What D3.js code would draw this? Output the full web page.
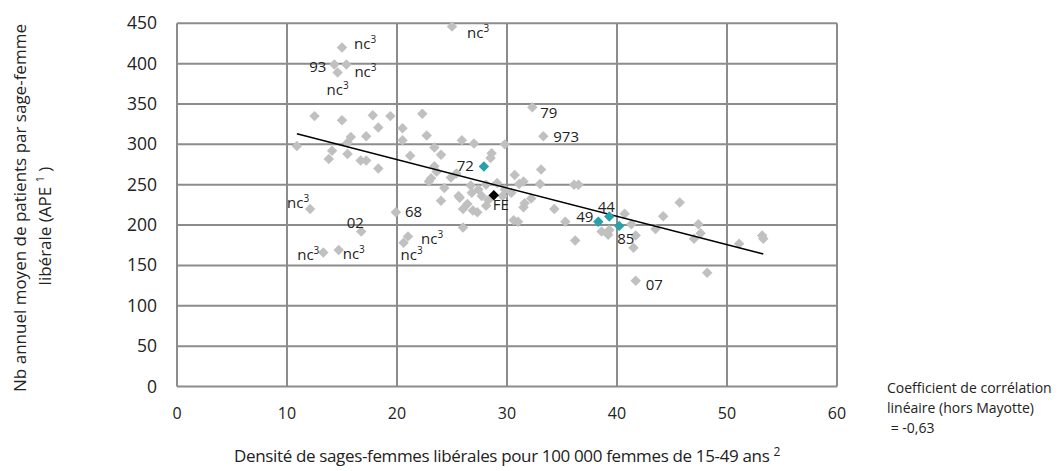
<!DOCTYPE html>
<html lang="fr">
<head>
<meta charset="utf-8">
<title>Densité de sages-femmes libérales et activité</title>
<script src="https://cdn.jsdelivr.net/npm/d3@7"></script>
<style>
  body { margin: 0; background: #fff; }
  text { font-family: "Open Sans", sans-serif; fill: #222; }
</style>
</head>
<body>
<script>
// Axis ticks
var xTicks = [0, 10, 20, 30, 40, 50, 60];
var yTicks = [0, 50, 100, 150, 200, 250, 300, 350, 400, 450];

// Départements without a label (density, APE)
var greyX = [12.5, 15.0, 17.8, 19.4, 22.3, 18.3, 15.8, 15.5, 17.2, 20.5, 20.5, 22.7, 10.9, 14.1, 13.8, 15.5, 16.7, 17.2, 18.3, 21.2,
             23.4, 24.0, 25.9, 27.0, 29.8, 28.6, 28.5, 23.4, 23.1, 22.9, 24.9, 25.4, 24.0, 25.6, 26.0, 26.8, 27.4, 27.7, 25.7, 26.4,
             26.0, 26.9, 27.3, 28.1, 29.8, 30.4, 31.1, 30.7, 31.5, 29.1, 26.7, 33.1, 33.0, 36.1, 36.5, 32.2, 31.6, 31.5, 34.3, 30.6,
             31.0, 35.3, 36.2, 40.7, 38.6, 39.2, 39.3, 41.3, 41.7, 41.5, 43.5, 44.2, 45.7, 47.4, 47.6, 47.0, 48.2, 51.1, 53.2, 53.3,
             28.1, 23.6, 24.3, 28.3, 29.6];
var greyY = [335, 330, 336, 335, 338, 321, 309, 302, 310, 320, 305, 311, 298, 292, 282, 288, 280, 280, 270, 286,
             296, 287, 305, 301, 300, 289, 283, 273, 258, 254, 259, 264, 230, 236, 197, 240, 244, 236, 234, 226,
             220, 218, 216, 224, 244, 240, 251, 262, 254, 252, 249, 269, 251, 250, 250, 233, 227, 222, 220, 206,
             204, 204, 181, 214, 192, 188, 194, 201, 187, 172, 195, 211, 228, 201, 190, 183, 141, 177, 187, 183,
             250, 266, 246, 231, 236];

// Labelled départements
var labelNames = ["nc", "nc", "93", "nc", "nc", "79", "973", "68", "nc", "02", "nc", "nc", "nc", "nc", "07"];
var labelX = [25.0, 15.0, 14.3, 15.4, 14.6, 32.3, 33.3, 19.9, 12.1, 16.75, 21.0, 20.6, 13.3, 14.7, 41.7];
var labelY = [446, 420, 399, 399, 389, 346, 310, 216, 220, 192, 186, 178, 166, 169, 131];

// Highlighted départements (teal) and France entière (black)
var highNames = ["72", "49", "44", "85"];
var highX = [27.9, 38.3, 39.3, 40.2];
var highY = [272.5, 204, 210.5, 199];
var feX = 28.8, feY = 237;

// Linear trend
var trendSlope = -3.51, trendIntercept = 351.3, trendFrom = 10.9, trendTo = 53.3;

// label placement (dx, dy, anchor) – layout only
var labelPos = {
  0: [15, 11, "start"], 1: [12, 1, "start"], 2: [-8, 8, "end"], 3: [8, 13, "start"], 4: [-11, 22, "start"],
  5: [8, 11, "start"], 6: [10, 6, "start"], 7: [9, 5, "start"], 8: [-1, -1, "end"], 9: [-6, -4, "middle"],
  10: [13, 8, "start"], 11: [-3, 17, "start"], 12: [-4, 7, "end"], 13: [4, 9, "start"], 14: [10, 9, "start"]
};
var highPos = { "72": [-10, 4, "end"], "49": [-5, 0, "end"], "44": [-3, -5, "middle"], "85": [-2, 18, "start"] };

var w = 1060, h = 471;
var x = d3.scaleLinear().domain([0, 60]).range([177, 837]);
var y = d3.scaleLinear().domain([0, 450]).range([386.5, 23.3]);

var svg = d3.select("body").append("svg").attr("width", w).attr("height", h);

// grid
svg.append("g").selectAll("line").data(yTicks).enter().append("line")
  .attr("x1", x(0)).attr("x2", x(60))
  .attr("y1", function(d) { return y(d); }).attr("y2", function(d) { return y(d); })
  .attr("stroke", "#8c8c8c").attr("stroke-width", 2);
svg.append("g").selectAll("line").data(xTicks).enter().append("line")
  .attr("y1", y(0)).attr("y2", y(450))
  .attr("x1", function(d) { return x(d); }).attr("x2", function(d) { return x(d); })
  .attr("stroke", "#8c8c8c").attr("stroke-width", 2);

// tick labels
svg.append("g").selectAll("text").data(yTicks).enter().append("text")
  .attr("x", 157).attr("y", function(d) { return y(d) + 6; })
  .attr("text-anchor", "end").attr("font-size", "17.5px")
  .text(function(d) { return d; });
svg.append("g").selectAll("text").data(xTicks).enter().append("text")
  .attr("x", function(d) { return x(d); }).attr("y", 419)
  .attr("text-anchor", "middle").attr("font-size", "16px")
  .text(function(d) { return d; });

var diamond = d3.symbol().type(d3.symbolDiamond2).size(70);
function place(px, py) { return "translate(" + x(px) + "," + y(py) + ")"; }

// grey points
svg.append("g").selectAll("path").data(greyX).enter().append("path")
  .attr("d", diamond)
  .attr("transform", function(d, i) { return place(d, greyY[i]); })
  .attr("fill", "#c0c0c0");
svg.append("g").selectAll("path").data(labelX).enter().append("path")
  .attr("d", diamond)
  .attr("transform", function(d, i) { return place(d, labelY[i]); })
  .attr("fill", "#c0c0c0");

// trend line
svg.append("line")
  .attr("x1", x(trendFrom)).attr("y1", y(trendIntercept + trendSlope * trendFrom))
  .attr("x2", x(trendTo)).attr("y2", y(trendIntercept + trendSlope * trendTo))
  .attr("stroke", "#000").attr("stroke-width", 1.5);

// highlighted points
svg.append("g").selectAll("path").data(highX).enter().append("path")
  .attr("d", diamond)
  .attr("transform", function(d, i) { return place(d, highY[i]); })
  .attr("fill", "#27a1aa");
svg.append("path").attr("d", diamond).attr("transform", place(feX, feY)).attr("fill", "#000");

// point labels
function addLabel(name, px, py, pos) {
  var t = svg.append("text")
    .attr("x", x(px) + pos[0]).attr("y", y(py) + pos[1])
    .attr("text-anchor", pos[2]).attr("font-size", "15px");
  t.append("tspan").text(name);
  if (name === "nc") {
    t.append("tspan").attr("font-size", "10px").attr("dy", -6).text("3");
  }
}
labelNames.forEach(function(n, i) { addLabel(n, labelX[i], labelY[i], labelPos[i]); });
highNames.forEach(function(n, i) { addLabel(n, highX[i], highY[i], highPos[n]); });
addLabel("FE", feX, feY, [-1, 15, "start"]);

// axis titles
var xt = svg.append("text").attr("x", 507).attr("y", 462).attr("text-anchor", "middle")
  .attr("font-size", "17px").attr("letter-spacing", "-0.35px");
xt.append("tspan").text("Densité de sages-femmes libérales pour 100 000 femmes de 15-49 ans ");
xt.append("tspan").attr("font-size", "12px").attr("dy", -6).text("2");

var yt = svg.append("text").attr("transform", "translate(26,208) rotate(-90)")
  .attr("text-anchor", "middle").attr("font-size", "17px");
yt.text("Nb annuel moyen de patients par sage-femme");
var yt2 = svg.append("text").attr("transform", "translate(51,226) rotate(-90)")
  .attr("text-anchor", "middle").attr("font-size", "17px");
yt2.append("tspan").text("libérale (APE ");
yt2.append("tspan").attr("font-size", "11px").attr("dy", -7).text("1");
yt2.append("tspan").attr("dy", 7).text(" )");

// correlation note
var note = ["Coefficient de corrélation", "linéaire (hors Mayotte)", " = -0,63"];
svg.append("g").selectAll("text").data(note).enter().append("text")
  .attr("x", 887).attr("y", function(d, i) { return 393 + i * 20; })
  .attr("font-size", "14px").attr("xml:space", "preserve")
  .text(function(d) { return d; });
</script>
</body>
</html>
